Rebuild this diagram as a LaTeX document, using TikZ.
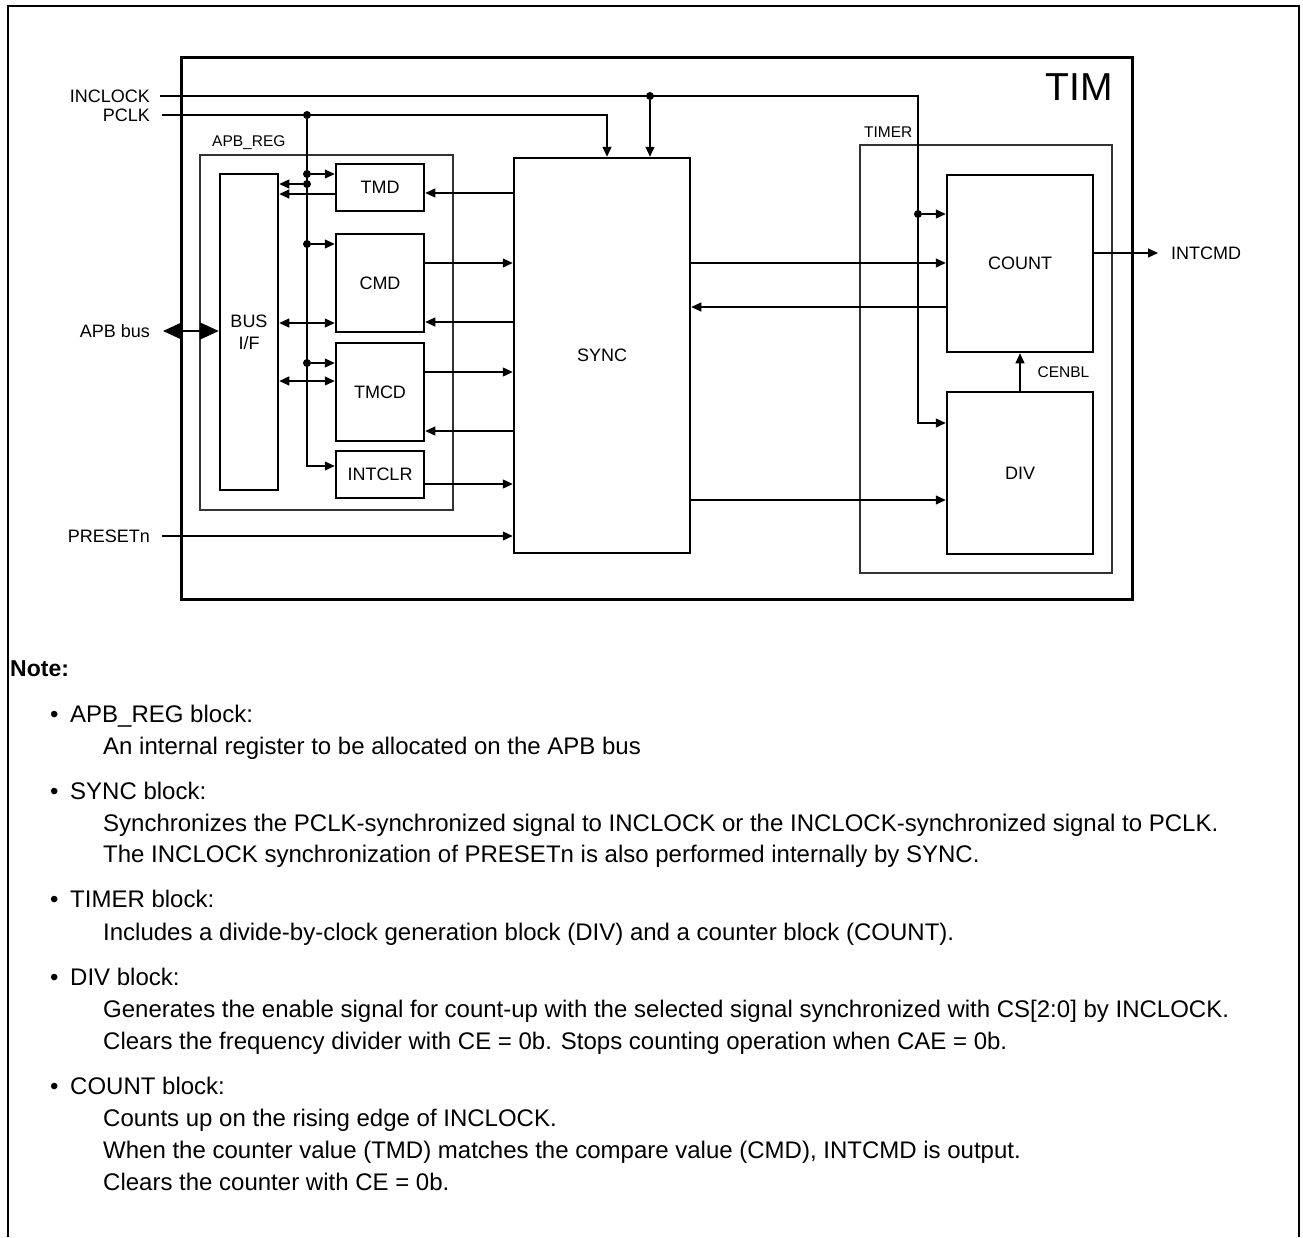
\documentclass[tikz,border=0pt]{standalone}
\usepackage{fontspec}
\setmainfont{Liberation Sans}
\usetikzlibrary{positioning,arrows.meta}

\begin{document}
\begin{tikzpicture}[x=1pt, y=-1pt,
        blk/.style={rectangle, draw=black, line width=2.5pt, fill=white, align=center, inner sep=0pt, font=\fontsize{18}{22}\selectfont},
        grp/.style={rectangle, draw=black!80, line width=1.3pt},
        sig/.style={line width=1.2pt},
        arr/.style={sig, -{Triangle[length=10pt,width=9pt]}},
        darr/.style={sig, {Triangle[length=10pt,width=9pt]}-{Triangle[length=10pt,width=9pt]}},
        dot/.style={circle, fill=black, inner sep=0pt, minimum size=8pt},
        lbl/.style={inner sep=0pt, font=\fontsize{18}{20}\selectfont},
        small/.style={inner sep=0pt, font=\fontsize{15.5}{18}\selectfont},
        note/.style={inner sep=0pt, anchor=base west, font=\fontsize{24}{28}\selectfont}
    ]
        \useasboundingbox (0,0) rectangle (1303,1237);

        % Frame
        \draw[line width=2pt] (8,1237) -- (8,6) -- (1299,6) -- (1299,1237);
        \node[rectangle, draw=black, line width=3pt, minimum width=951pt, minimum height=542pt] (tim) at (656.5,328) {};
        \node[inner sep=0pt, font=\fontsize{39}{40}\selectfont] (timlbl) at (1079,87) {TIM};

        % Groups
        \node[grp, minimum width=253pt, minimum height=355pt] (apbreg) at (326.5,332.5) {};
        \node[small, anchor=west] (apbregl) at (212,143) {APB\_REG};
        \node[grp, minimum width=252pt, minimum height=428pt] (timer) at (986,359) {};
        \node[small, anchor=west] (timerl) at (864,132) {TIMER};

        % Blocks
        \node[blk, minimum width=58pt, minimum height=316pt] (bus) at (249,332) {BUS\\I/F};
        \node[blk, minimum width=88pt, minimum height=47pt] (tmd) at (380,187.5) {TMD};
        \node[blk, minimum width=88pt, minimum height=98pt] (cmd) at (380,283) {CMD};
        \node[blk, minimum width=88pt, minimum height=98pt] (tmcd) at (380,392) {TMCD};
        \node[blk, minimum width=88pt, minimum height=47pt] (intclr) at (380,474.5) {INTCLR};
        \node[blk, minimum width=176pt, minimum height=395pt] (sync) at (602,355.5) {SYNC};
        \node[blk, minimum width=146pt, minimum height=177pt] (count) at (1020,263.5) {COUNT};
        \node[blk, minimum width=146pt, minimum height=162pt] (div) at (1020,473) {DIV};

        % Ports
        \node[lbl, anchor=east] (inclk) at (150,96) {INCLOCK};
        \node[lbl, anchor=east] (pclk) at (150,115) {PCLK};
        \node[lbl, anchor=east] (apb) at (150,331) {APB bus};
        \node[lbl, anchor=east] (preset) at (150,536) {PRESETn};
        \node[lbl, anchor=west] (intcmd) at (1171,253) {INTCMD};

        % INCLOCK
        \node[dot] (inJ) at (650,96) {};
        \node[dot] (inK) at (918,214) {};
        \draw[arr] ([xshift=10pt]inclk.east) -- (918,96) |- (div.west |- 0,423);
        \draw[arr] (inJ) -- (inJ |- sync.north);
        \draw[arr] (inK) -- (inK -| count.west);

        % PCLK
        \node[dot] (pJ) at (307,115) {};
        \node[dot] (pA) at (307,174) {};
        \node[dot] (pB) at (307,184) {};
        \node[dot] (pC) at (307,244) {};
        \node[dot] (pD) at (307,363) {};
        \draw[arr] ([xshift=12pt]pclk.east) -| ([xshift=5pt]sync.north);
        \draw[arr] (pJ) |- ([yshift=8.5pt]intclr.west);
        \draw[arr] (pA) -- (pA -| tmd.west);
        \draw[arr] (pB) -- (pB -| bus.east);
        \draw[arr] (pC) -- (pC -| cmd.west);
        \draw[arr] (pD) -- (pD -| tmcd.west);

        % APB_REG
        \draw[line width=2pt, {Triangle[length=19pt,width=17pt]}-{Triangle[length=19pt,width=17pt]}] ([xshift=13pt]apb.east) -- (bus.west |- apb.east);
        \draw[arr] (tmd.west |- 0,194) -- (bus.east |- 0,194);
        \draw[darr] (bus.east |- 0,323) -- (cmd.west |- 0,323);
        \draw[darr] (bus.east |- 0,381) -- (tmcd.west |- 0,381);

        % SYNC
        \draw[arr] (sync.west |- 0,193) -- (tmd.east |- 0,193);
        \draw[arr] (cmd.east |- 0,263) -- (sync.west |- 0,263);
        \draw[arr] (sync.west |- 0,322) -- (cmd.east |- 0,322);
        \draw[arr] (tmcd.east |- 0,372) -- (sync.west |- 0,372);
        \draw[arr] (sync.west |- 0,431) -- (tmcd.east |- 0,431);
        \draw[arr] (intclr.east |- 0,484) -- (sync.west |- 0,484);
        \draw[arr] ([xshift=12pt]preset.east) -- (sync.west |- preset.east);

        % TIMER
        \draw[arr] (sync.east |- 0,263) -- (count.west |- 0,263);
        \draw[arr] (count.west |- 0,307) -- (sync.east |- 0,307);
        \draw[arr] (sync.east |- 0,500) -- (div.west |- 0,500);
        \draw[arr] (div.north) -- (count.south) node[small, midway, anchor=west, xshift=17pt] (cenbl) {CENBL};
        \draw[arr] (count.east |- intcmd.west) -- ([xshift=-13pt]intcmd.west);

        % Notes
        \node[note, font=\fontsize{23}{26}\selectfont\bfseries] (note) at (10,676) {Note:};
        \node[note] (n1) at (50,722) {\makebox[20pt][l]{•}APB\_REG block:};
        \node[note] (n1a) at (103,754) {An internal register to be allocated on the APB bus};
        \node[note] (n2) at (50,799) {\makebox[20pt][l]{•}SYNC block:};
        \node[note] (n2a) at (103,831) {Synchronizes the PCLK-synchronized signal to INCLOCK or the INCLOCK-synchronized signal to PCLK.};
        \node[note] (n2b) at (103,862) {The INCLOCK synchronization of PRESETn is also performed internally by SYNC.};
        \node[note] (n3) at (50,907) {\makebox[20pt][l]{•}TIMER block:};
        \node[note] (n3a) at (103,940) {Includes a divide-by-clock generation block (DIV) and a counter block (COUNT).};
        \node[note] (n4) at (50,985) {\makebox[20pt][l]{•}DIV block:};
        \node[note] (n4a) at (103,1017) {Generates the enable signal for count-up with the selected signal synchronized with CS[2:0] by INCLOCK.};
        \node[note] (n4b) at (103,1049) {Clears the frequency divider with CE = 0b. Stops counting operation when CAE = 0b.};
        \node[note] (n5) at (50,1094) {\makebox[20pt][l]{•}COUNT block:};
        \node[note] (n5a) at (103,1126) {Counts up on the rising edge of INCLOCK.};
        \node[note] (n5b) at (103,1158) {When the counter value (TMD) matches the compare value (CMD), INTCMD is output.};
        \node[note] (n5c) at (103,1190) {Clears the counter with CE = 0b.};
    \end{tikzpicture}
\end{document}
